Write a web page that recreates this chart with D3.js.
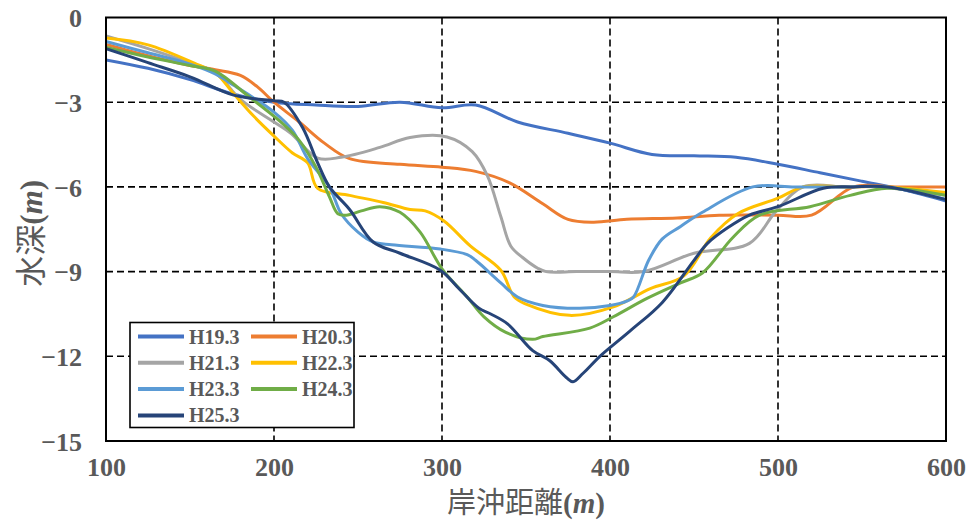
<!DOCTYPE html>
<html>
<head>
<meta charset="utf-8">
<script src="https://cdn.jsdelivr.net/npm/d3@7"></script>
<style>
  html, body { margin: 0; padding: 0; background: #fff; }
  svg { display: block; }
</style>
</head>
<body>
<svg id="chart" width="971" height="523"></svg>
<script>
// Cross-shore bathymetric profiles, one per survey year
const seriesNames = ["H19.3", "H20.3", "H21.3", "H22.3", "H23.3", "H24.3", "H25.3"];
const seriesColors = ["#4472C4", "#ED7D31", "#A5A5A5", "#FFC000", "#5B9BD5", "#70AD47", "#264478"];

const xTicks = [100, 200, 300, 400, 500, 600];
const yTicks = [0, -3, -6, -9, -12, -15];

// [distance (m), depth (m)]
const h19 = [[100,-1.5],[125,-1.8],[150,-2.2],[175,-2.7],[200,-3.0],[225,-3.1],[250,-3.15],[275,-3.0],[300,-3.2],[320,-3.1],[345,-3.7],[375,-4.1],[400,-4.45],[425,-4.85],[450,-4.9],[475,-4.95],[500,-5.2],[525,-5.5],[550,-5.8],[575,-6.1],[600,-6.5]];
const h20 = [[100,-0.95],[125,-1.35],[150,-1.7],[165,-1.85],[180,-2.05],[190,-2.45],[200,-3.0],[215,-3.7],[230,-4.45],[245,-5.0],[275,-5.2],[300,-5.3],[320,-5.45],[340,-5.85],[360,-6.6],[375,-7.15],[390,-7.25],[410,-7.15],[440,-7.1],[465,-7.0],[500,-7.0],[520,-7.0],[545,-6.0],[570,-6.0],[600,-6.0]];
const h21 = [[100,-0.65],[125,-1.1],[150,-1.6],[165,-1.95],[180,-2.9],[200,-3.7],[210,-4.1],[226,-4.98],[240,-4.95],[263,-4.6],[281,-4.25],[303,-4.23],[318,-4.75],[327,-5.6],[335,-7.05],[341,-8.1],[348,-8.5],[357,-8.88],[362,-9.0],[380,-9.0],[400,-9.0],[420,-9.0],[450,-8.35],[483,-8.0],[499,-6.85],[515,-6.0],[540,-6.0],[560,-6.0],[600,-6.3]];
const h22 = [[100,-0.73],[125,-0.97],[155,-1.68],[165,-1.95],[176,-2.7],[188,-3.5],[200,-4.2],[211,-4.8],[220,-5.15],[226,-6.05],[245,-6.3],[265,-6.55],[281,-6.8],[290,-6.85],[301,-7.2],[317,-8.1],[335,-8.95],[343,-9.9],[350,-10.15],[376,-10.55],[402,-10.25],[424,-9.6],[444,-9.15],[460,-7.8],[476,-6.95],[500,-6.4],[515,-6.0],[540,-6.0],[565,-6.0],[600,-6.2]];
const h23 = [[100,-0.85],[125,-1.25],[150,-1.65],[165,-2.0],[176,-2.4],[200,-3.35],[211,-4.0],[220,-5.0],[233,-6.0],[240,-6.95],[250,-7.6],[259,-7.95],[270,-8.05],[299,-8.2],[315,-8.4],[320,-8.6],[335,-9.4],[345,-9.9],[360,-10.2],[382,-10.3],[400,-10.2],[410,-10.05],[414,-9.9],[423,-8.6],[431,-7.85],[442,-7.4],[455,-6.9],[485,-6.0],[510,-6.0],[540,-6.0],[565,-6.0],[600,-6.45]];
const h24 = [[100,-1.05],[125,-1.4],[150,-1.7],[165,-1.9],[185,-2.8],[205,-3.75],[215,-4.35],[225,-5.3],[233,-6.35],[238,-6.95],[243,-7.0],[252,-6.85],[263,-6.7],[275,-6.9],[287,-7.6],[300,-8.9],[315,-9.9],[325,-10.6],[338,-11.15],[354,-11.4],[360,-11.3],[388,-11.0],[402,-10.6],[422,-9.95],[442,-9.4],[455,-9.05],[473,-7.8],[489,-7.0],[519,-6.7],[543,-6.3],[565,-6.05],[600,-6.3]];
const h25 = [[100,-1.1],[125,-1.6],[150,-2.1],[176,-2.75],[200,-2.95],[206,-3.0],[217,-3.9],[226,-5.15],[233,-6.0],[245,-6.8],[259,-7.95],[275,-8.35],[299,-8.95],[310,-9.6],[322,-10.3],[329,-10.5],[339,-10.85],[354,-11.8],[364,-12.15],[374,-12.75],[378,-12.9],[384,-12.6],[394,-12.0],[412,-11.1],[431,-10.1],[450,-8.6],[458,-8.0],[470,-7.45],[483,-7.0],[500,-6.7],[527,-6.05],[545,-6.0],[565,-6.0],[600,-6.45]];

const seriesData = [h19, h20, h21, h22, h23, h24, h25];

const svg = d3.select("#chart");
const margin = { left: 106, top: 17.5, right: 25, bottom: 82 };
const W = 971, H = 523;
const plotW = W - margin.left - margin.right;   // 840
const plotH = H - margin.top - margin.bottom;   // 423.5

const x = d3.scaleLinear().domain([100, 600]).range([margin.left, margin.left + plotW]);
const y = d3.scaleLinear().domain([-15, 0]).range([margin.top + plotH, margin.top]);

const tickColor = "#595959";
const serif = "'Liberation Serif', 'Times New Roman', serif";

// Dashed grid
const grid = svg.append("g");
grid.selectAll("line.h").data(yTicks.filter(v => v !== 0 && v !== -15)).join("line")
  .attr("x1", x(100)).attr("x2", x(600))
  .attr("y1", d => y(d)).attr("y2", d => y(d))
  .attr("stroke", "#000").attr("stroke-width", 1.6).attr("stroke-dasharray", "7,4");
grid.selectAll("line.v").data(xTicks.filter(v => v !== 100 && v !== 600)).join("line")
  .attr("y1", y(0)).attr("y2", y(-15))
  .attr("x1", d => x(d)).attr("x2", d => x(d))
  .attr("stroke", "#000").attr("stroke-width", 1.6).attr("stroke-dasharray", "7,4");

// Axes (labels only, no tick marks)
const xAxis = d3.axisBottom(x).tickValues(xTicks).tickSize(0).tickPadding(17).tickFormat(d3.format("d"));
const yAxis = d3.axisLeft(y).tickValues(yTicks).tickSize(0).tickPadding(24).tickFormat(d3.format("d"));

const gx = svg.append("g").attr("transform", `translate(0,${y(-15)})`).call(xAxis);
const gy = svg.append("g").attr("transform", `translate(${x(100)},0)`).call(yAxis);
[gx, gy].forEach(g => {
  g.select(".domain").remove();
  g.selectAll("text")
    .attr("fill", tickColor)
    .style("font-family", serif)
    .style("font-weight", "bold")
    .style("font-size", "26px");
});
gy.selectAll("text").attr("dy", "0.36em");

// Lines
svg.append("clipPath").attr("id", "plotClip")
  .append("rect").attr("x", x(100)).attr("y", y(0)).attr("width", plotW).attr("height", plotH);

const line = d3.line()
  .x(d => x(d[0])).y(d => y(d[1]))
  .curve(d3.curveCatmullRom.alpha(0.5));

const lines = svg.append("g").attr("clip-path", "url(#plotClip)");
seriesData.forEach((data, i) => {
  lines.append("path")
    .datum(data)
    .attr("d", line)
    .attr("fill", "none")
    .attr("stroke", seriesColors[i])
    .attr("stroke-width", 3)
    .attr("stroke-linejoin", "round")
    .attr("stroke-linecap", "round");
});

// Plot frame
svg.append("rect")
  .attr("x", x(100)).attr("y", y(0)).attr("width", plotW).attr("height", plotH)
  .attr("fill", "none").attr("stroke", "#000").attr("stroke-width", 2);

// Legend
const legend = svg.append("g").attr("transform", "translate(130,322.5)");
legend.append("rect").attr("width", 224).attr("height", 105)
  .attr("fill", "#fff").attr("stroke", "#000").attr("stroke-width", 1.6);
seriesNames.forEach((name, i) => {
  const col = i % 2, row = Math.floor(i / 2);
  const gx0 = 8 + col * 113, gy0 = 14 + row * 26.3;
  const item = legend.append("g").attr("transform", `translate(${gx0},${gy0})`);
  item.append("line").attr("x1", 0).attr("x2", 46).attr("y1", 0).attr("y2", 0)
    .attr("stroke", seriesColors[i]).attr("stroke-width", 4);
  item.append("text").attr("x", 51).attr("y", 0).attr("dy", "0.35em")
    .text(name)
    .attr("fill", tickColor)
    .style("font-family", serif).style("font-weight", "bold").style("font-size", "20px");
});

// Axis titles
const cjk = "'Noto Sans CJK JP', 'Noto Sans CJK SC', sans-serif";
const xt = svg.append("text")
  .attr("x", x(100) + plotW / 2).attr("y", 513)
  .attr("text-anchor", "middle").attr("fill", tickColor)
  .style("font-size", "29px");
xt.append("tspan").text("岸沖距離").style("font-family", cjk);
xt.append("tspan").text("(").style("font-family", serif).style("font-weight", "bold");
xt.append("tspan").text("m").style("font-family", serif).style("font-weight", "bold").style("font-style", "italic");
xt.append("tspan").text(")").style("font-family", serif).style("font-weight", "bold");

const yt = svg.append("text")
  .attr("transform", `translate(42,${margin.top + plotH / 2 + 4}) rotate(-90)`)
  .attr("text-anchor", "middle").attr("fill", tickColor)
  .style("font-size", "31px");
yt.append("tspan").text("水深").style("font-family", cjk);
yt.append("tspan").text("(").style("font-family", serif).style("font-weight", "bold");
yt.append("tspan").text("m").style("font-family", serif).style("font-weight", "bold").style("font-style", "italic");
yt.append("tspan").text(")").style("font-family", serif).style("font-weight", "bold");
</script>
</body>
</html>
